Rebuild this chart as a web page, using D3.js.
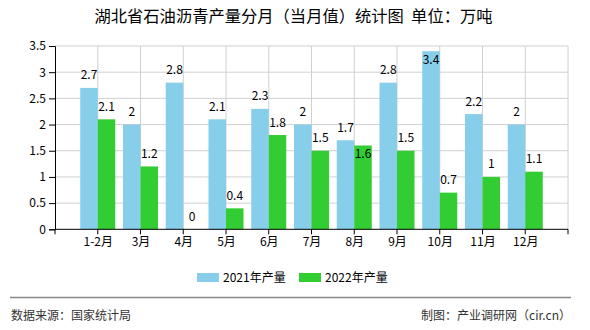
<!DOCTYPE html>
<html><head><meta charset="utf-8">
<script src="https://cdn.jsdelivr.net/npm/d3@7"></script>
<style>
body{margin:0;background:#fff;}
svg{display:block;font-family:"Noto Sans CJK SC","Noto Sans",sans-serif;}
</style></head>
<body>
<script>
const categories = ["1-2月","3月","4月","5月","6月","7月","8月","9月","10月","11月","12月"];
const seriesNames = ["2021年产量","2022年产量"];
const values2021 = [2.7,2.0,2.8,2.1,2.3,2.0,1.7,2.8,3.4,2.2,2.0];
const values2022 = [2.1,1.2,0,0.4,1.8,1.5,1.6,1.5,0.7,1.0,1.1];
const yTicks = [0,0.5,1,1.5,2,2.5,3,3.5];
const colors = ["#87CEEB","#32CD32"];
const titleText = "湖北省石油沥青产量分月（当月值）统计图\u00A0\u00A0单位：万吨";
const sourceText = "数据来源：国家统计局";
const creditText = "制图：产业调研网（cir.cn）";

const W=590,H=330;
const m={l:55,r:568,t:46,b:229.3};
const svg=d3.select("body").append("svg").attr("width",W).attr("height",H);

svg.append("text").attr("x",293.5).attr("y",22).attr("text-anchor","middle")
  .attr("font-size",16.3).attr("fill","#000").text(titleText);

const y=d3.scaleLinear().domain([0,3.5]).range([m.b,m.t]);
const x=d3.scalePoint().domain(categories).range([m.l,m.r]).padding(1);
const step=x.step();
const xs=d3.scaleBand().domain([0,1]).range([-17.5,17.5]).padding(0);

// grid
const g=svg.append("g");
g.selectAll(".hg").data(yTicks.filter(d=>d>0)).join("line")
  .attr("x1",m.l).attr("x2",m.r).attr("y1",d=>y(d)).attr("y2",d=>y(d))
  .attr("stroke","#d0d0d0").attr("stroke-width",1);
const bounds=d3.range(categories.length+2).map(i=>m.l+i*step);
g.selectAll(".vg").data(bounds.slice(1)).join("line")
  .attr("x1",d=>d).attr("x2",d=>d).attr("y1",m.t).attr("y2",m.b)
  .attr("stroke","#d0d0d0").attr("stroke-width",1);

// bars
const series=[values2021,values2022];
const bars=svg.append("g");
series.forEach((vals,si)=>{
  bars.selectAll(".b"+si).data(vals).join("rect")
    .attr("x",(d,i)=>x(categories[i])+xs(si))
    .attr("width",xs.bandwidth())
    .attr("y",d=>y(d)).attr("height",d=>y(0)-y(d))
    .attr("fill",colors[si]);
});

// labels
const lab=svg.append("g").attr("font-size",12).attr("fill","#000").attr("text-anchor","middle");
categories.forEach((c,i)=>{
  const pos=[];
  series.forEach((vals,si)=>{
    const v=vals[i];
    const cx=x(c)+xs(si)+xs.bandwidth()/2;
    let base=y(v)-8.5;
    let inside=false;
    if(base-9<m.t) inside=true;
    if(si===1 && !pos[0].inside && Math.abs(base-pos[0].base)<14) inside=true;
    if(inside) base=y(v)+12.5;
    pos.push({base,inside});
    lab.append("text").attr("x",cx).attr("y",base).text(d3.format("~g")(v));
  });
});

// axes
const yAxis=svg.append("g").attr("transform",`translate(${m.l},0)`)
  .call(d3.axisLeft(y).tickValues(yTicks).tickSize(6).tickPadding(3).tickFormat(d3.format("~g")));
yAxis.selectAll("text").attr("font-size",12).attr("font-family","'Noto Sans CJK SC',sans-serif").attr("fill","#000");
yAxis.select(".domain").attr("stroke","#000");
yAxis.selectAll(".tick line").attr("stroke","#000");

const xAxis=svg.append("g").attr("transform",`translate(0,${m.b})`)
  .call(d3.axisBottom(x).tickSize(0).tickPadding(8));
xAxis.select(".domain").attr("stroke","#000").attr("d",`M${m.l},0H${m.r}`);
xAxis.selectAll("text").attr("font-size",12).attr("font-family","'Noto Sans CJK SC',sans-serif").attr("fill","#000");
xAxis.selectAll(".bt").data(bounds).join("line").attr("class","bt")
  .attr("x1",d=>d).attr("x2",d=>d).attr("y1",0).attr("y2",5).attr("stroke","#000");

// legend
const leg=svg.append("g");
const legX=[197,299];
seriesNames.forEach((n,i)=>{
  leg.append("rect").attr("x",legX[i]).attr("y",273).attr("width",22).attr("height",9).attr("fill",colors[i]);
  leg.append("text").attr("x",legX[i]+26).attr("y",281.5).attr("font-size",12).attr("fill","#000").text(n);
});

// footer
svg.append("line").attr("x1",10).attr("x2",571).attr("y1",297.5).attr("y2",297.5).attr("stroke","#888").attr("stroke-width",1.5);
svg.append("text").attr("x",11).attr("y",319.5).attr("font-size",12).attr("fill","#333").text(sourceText);
svg.append("text").attr("x",571).attr("y",319.5).attr("text-anchor","end").attr("font-size",12).attr("fill","#333").text(creditText);
</script>
</body></html>
